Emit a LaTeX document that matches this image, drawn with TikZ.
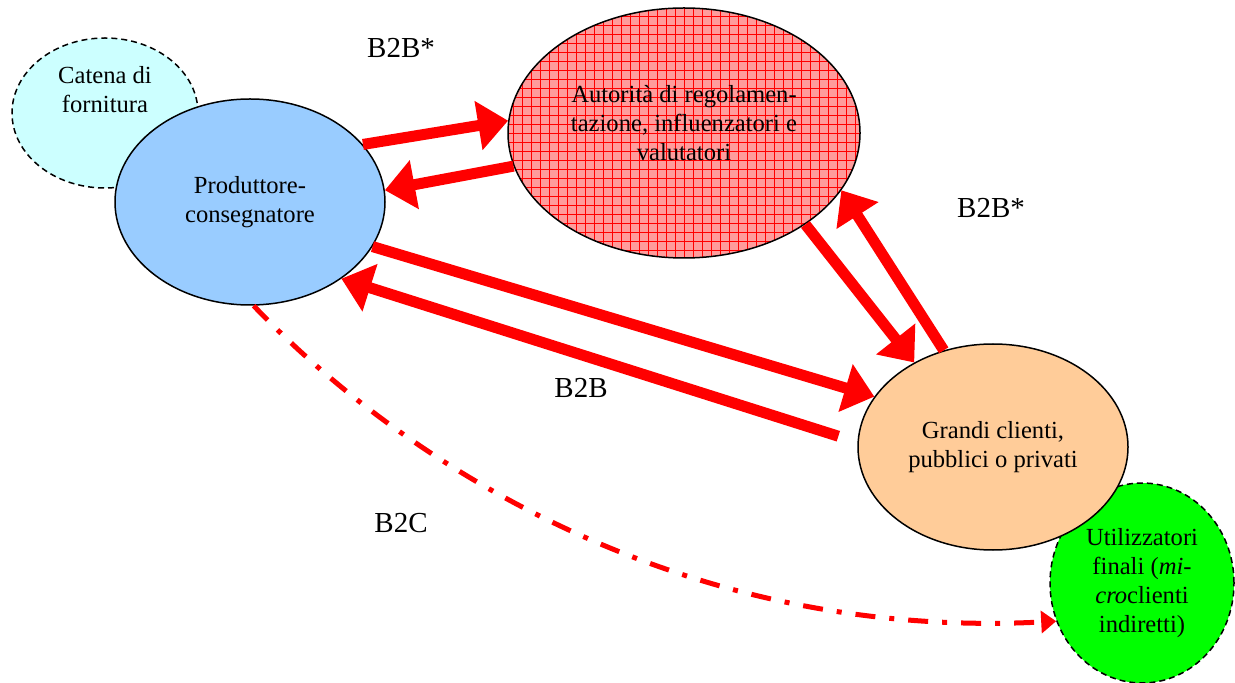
\documentclass[tikz,border=0pt]{standalone}
\usepackage{fontspec}
\setmainfont{Liberation Serif}
\usetikzlibrary{shapes.geometric,arrows.meta}

\definecolor{catenacol}{HTML}{CCFFFF}
\definecolor{prodcol}{HTML}{99CCFF}
\definecolor{clientcol}{HTML}{FFCC99}
\definecolor{utilcol}{HTML}{00FF00}
\definecolor{hatchcol}{HTML}{FF9C9C}

\begin{document}
\begin{tikzpicture}[x=0.5pt,y=-0.5pt,
    font=\fontsize{12.3}{14.5}\selectfont,
    bubble/.style={ellipse,draw,line width=0.75pt,inner sep=0pt,align=center},
    dashbubble/.style={bubble,dash pattern=on 3pt off 2pt},
    gridline/.style={draw=red,line width=0.35pt},
    gridfill/.style={fill=hatchcol,path picture={
        \foreach \k in {-20,...,20}
          \draw[gridline] ([xshift=\k*4.5pt]path picture bounding box.south)
            -- ([xshift=\k*4.5pt]path picture bounding box.north);
        \foreach \k in {-14,...,14}
          \draw[gridline] ([yshift=\k*4.5pt]path picture bounding box.west)
            -- ([yshift=\k*4.5pt]path picture bounding box.east);}},
    flow/.style={draw=red,line width=5.5pt,-{Triangle[length=15pt,width=24pt]}},
    direct/.style={draw=red,line width=2.5pt,
        dash pattern=on 10pt off 7pt on 2.5pt off 7pt,
        -{Triangle[length=7.5pt,width=11pt]}},
    tag/.style={inner sep=0pt,font=\fontsize{14.5}{16}\selectfont}]
  \useasboundingbox (0,0) rectangle (1235,683);
  % actors
  \node[dashbubble,fill=catenacol,minimum width=93pt,minimum height=75pt,
    label={[align=center,yshift=11.5pt]center:Catena di\\fornitura}] (catena) at (105,113) {};
  \node[bubble,fill=prodcol,minimum width=135pt,minimum height=103pt] (prod) at (250,202)
    {Produttore-\\consegnatore};
  \node[bubble,gridfill,minimum width=176pt,minimum height=125pt,text depth=10pt] (aut) at (684,133)
    {Autorità di regolamen-\\tazione, influenzatori e\\valutatori};
  \node[dashbubble,fill=utilcol,minimum width=92pt,minimum height=100pt] (util) at (1142,583)
    {Utilizzatori\\finali (\textit{mi-}\\\textit{cro}clienti\\indiretti)};
  \node[bubble,fill=clientcol,minimum width=135pt,minimum height=103pt] (grandi) at (993,447)
    {Grandi clienti,\\pubblici o privati};
  % relations
  \draw[flow] (prod.27) -- (aut.176);
  \draw[flow] (aut.191) -- (prod.5);
  \draw[flow] (prod.-20) -- (grandi.157);
  \draw[flow,shorten <=10pt] (grandi.178) -- (prod.-40);
  \draw[flow] (aut.-37) -- (grandi.133);
  \draw[flow] (grandi.117) -- (aut.-20);
  \draw[direct] (prod.-88) .. controls (420,480) and (700,640) .. (util.204);
  % labels
  \node[tag] (tagtop) at (401,48) {B2B*};
  \node[tag] (tagright) at (991,208) {B2B*};
  \node[tag] (tagmid) at (581,388) {B2B};
  \node[tag] (tagdirect) at (401,523) {B2C};
\end{tikzpicture}
\end{document}
